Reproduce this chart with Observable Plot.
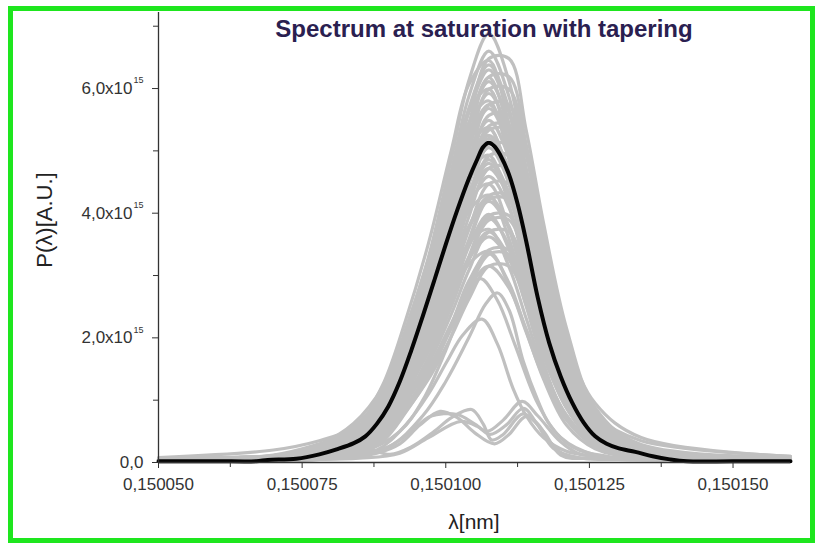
<!DOCTYPE html>
<html>
<head>
<meta charset="utf-8">
<script src="https://cdn.jsdelivr.net/npm/d3@7"></script>
<script src="https://cdn.jsdelivr.net/npm/@observablehq/plot@0.6"></script>
<style>
  html, body { margin: 0; padding: 0; background: #fff; }
  body { width: 816px; height: 544px; position: relative; overflow: hidden; font-family: "Liberation Sans", Arial, sans-serif; }
  #chart { position: absolute; left: 0; top: 0; }
  #frame { position: absolute; left: 8px; top: 6px; width: 797px; height: 527px; border: 5px solid #1ee61e; pointer-events: none; }
  #title { position: absolute; left: 484px; top: 15px; transform: translateX(-50%); white-space: nowrap;
           font-weight: bold; font-size: 24px; color: #2a2050; line-height: 28px; }
  #xlabel { position: absolute; left: 474px; top: 509px; transform: translateX(-50%); white-space: nowrap;
            font-size: 21px; color: #222; line-height: 26px; }
  #ylabel { position: absolute; left: 45px; top: 220px; transform: translate(-50%, -50%) rotate(-90deg); white-space: nowrap;
            font-size: 22px; color: #222; line-height: 26px; }
</style>
</head>
<body>
<div id="chart"></div>
<div id="title">Spectrum at saturation with tapering</div>
<div id="xlabel">λ[nm]</div>
<div id="ylabel">P(λ)[A.U.]</div>
<div id="frame"></div>
<script>
// Wavelength grid (nm) shared by the bundle of single-shot spectra
const lambdaGrid = [0.15005, 0.15007, 0.150078, 0.150084, 0.150089, 0.150093, 0.150097, 0.150101, 0.150104,
                    0.1501075, 0.150111, 0.150114, 0.150117, 0.150121, 0.150126, 0.150134, 0.15016];

// Single-shot spectra on lambdaGrid, power in units of 1e15 A.U.
const shotSpectra = [
  [0.06, 0.10, 0.17, 0.41, 1.03, 2.13, 3.30, 4.88, 6.12, 6.88, 6.12, 4.68, 3.16, 1.65, 0.62, 0.21, 0.06],
  [0.06, 0.09, 0.14, 0.34, 0.81, 1.69, 2.77, 4.19, 5.40, 6.48, 6.48, 5.33, 3.85, 2.16, 0.88, 0.27, 0.06],
  [0.06, 0.08, 0.17, 0.40, 0.99, 2.05, 3.17, 4.69, 5.87, 6.60, 5.87, 4.49, 3.04, 1.58, 0.59, 0.20, 0.06],
  [0.06, 0.10, 0.20, 0.49, 1.24, 2.28, 3.52, 5.02, 6.06, 6.45, 5.41, 3.98, 2.61, 1.30, 0.49, 0.16, 0.06],
  [0.06, 0.09, 0.13, 0.32, 0.77, 1.61, 2.64, 4.00, 5.16, 6.19, 6.19, 5.10, 3.68, 2.06, 0.84, 0.26, 0.07],
  [0.06, 0.09, 0.16, 0.38, 0.96, 1.98, 3.06, 4.53, 5.68, 6.38, 5.68, 4.34, 2.93, 1.53, 0.57, 0.19, 0.06],
  [0.08, 0.20, 0.35, 0.55, 0.95, 1.95, 3.02, 4.47, 5.61, 6.30, 5.61, 4.28, 2.90, 1.51, 0.57, 0.19, 0.06],
  [0.06, 0.08, 0.12, 0.31, 0.75, 1.56, 2.56, 3.87, 4.99, 5.99, 5.99, 4.93, 3.56, 2.00, 0.81, 0.25, 0.06],
  [0.06, 0.08, 0.09, 0.25, 0.62, 1.48, 2.53, 4.08, 5.38, 6.18, 5.31, 3.89, 2.47, 1.11, 0.40, 0.12, 0.06],
  [0.06, 0.09, 0.15, 0.37, 0.92, 1.89, 2.93, 4.34, 5.44, 6.11, 5.44, 4.15, 2.81, 1.47, 0.55, 0.18, 0.06],
  [0.06, 0.10, 0.18, 0.45, 1.15, 2.12, 3.27, 4.66, 5.63, 5.99, 5.02, 3.69, 2.42, 1.21, 0.45, 0.15, 0.06],
  [0.06, 0.08, 0.12, 0.30, 0.72, 1.50, 2.45, 3.71, 4.78, 5.74, 5.74, 4.72, 3.41, 1.91, 0.78, 0.24, 0.06],
  [0.06, 0.09, 0.15, 0.36, 0.89, 1.84, 2.84, 4.20, 5.27, 5.92, 5.27, 4.03, 2.72, 1.42, 0.53, 0.18, 0.06],
  [0.06, 0.10, 0.18, 0.44, 1.11, 2.05, 3.16, 4.51, 5.45, 5.80, 4.86, 3.57, 2.34, 1.17, 0.44, 0.15, 0.06],
  [0.06, 0.08, 0.12, 0.29, 0.70, 1.45, 2.38, 3.60, 4.64, 5.57, 5.57, 4.58, 3.31, 1.95, 0.95, 0.40, 0.10],
  [0.06, 0.11, 0.29, 0.63, 1.21, 2.10, 3.07, 4.31, 5.17, 5.74, 5.17, 4.13, 2.93, 1.78, 0.80, 0.29, 0.08],
  [0.06, 0.12, 0.30, 0.50, 0.85, 1.76, 2.73, 4.03, 5.06, 5.68, 5.06, 3.86, 2.61, 1.36, 0.51, 0.17, 0.06],
  [0.06, 0.08, 0.11, 0.28, 0.67, 1.41, 2.30, 3.48, 4.50, 5.40, 5.40, 4.44, 3.20, 1.80, 0.73, 0.22, 0.06],
  [0.06, 0.09, 0.14, 0.33, 0.82, 1.70, 2.64, 3.90, 4.89, 5.49, 4.89, 3.73, 2.53, 1.32, 0.49, 0.16, 0.06],
  [0.06, 0.08, 0.11, 0.28, 0.67, 1.39, 2.28, 3.44, 4.44, 5.33, 5.33, 4.38, 3.16, 1.78, 0.72, 0.22, 0.06],
  [0.06, 0.10, 0.16, 0.41, 1.03, 1.90, 2.93, 4.17, 5.04, 5.37, 4.50, 3.31, 2.17, 1.08, 0.41, 0.14, 0.06],
  [0.06, 0.08, 0.08, 0.21, 0.54, 1.29, 2.20, 3.54, 4.66, 5.36, 4.61, 3.38, 2.14, 0.96, 0.35, 0.11, 0.06],
  [0.06, 0.08, 0.11, 0.27, 0.64, 1.33, 2.17, 3.29, 4.24, 5.09, 5.09, 4.19, 3.02, 1.70, 0.69, 0.21, 0.06],
  [0.06, 0.11, 0.26, 0.58, 1.10, 1.92, 2.81, 3.94, 4.73, 5.25, 4.73, 3.78, 2.68, 1.63, 0.74, 0.26, 0.08],
  [0.06, 0.08, 0.10, 0.21, 0.52, 1.25, 2.13, 3.43, 4.52, 5.20, 4.47, 3.28, 2.08, 0.94, 0.34, 0.10, 0.06],
  [0.06, 0.08, 0.10, 0.26, 0.61, 1.28, 2.10, 3.17, 4.10, 4.92, 4.92, 4.04, 2.92, 1.64, 0.67, 0.20, 0.06],
  [0.06, 0.09, 0.13, 0.30, 0.76, 1.57, 2.42, 3.59, 4.49, 5.05, 4.49, 3.43, 2.32, 1.40, 0.75, 0.35, 0.10],
  [0.06, 0.09, 0.15, 0.37, 0.95, 1.74, 2.69, 3.83, 4.63, 4.93, 4.13, 3.04, 1.99, 1.00, 0.37, 0.12, 0.06],
  [0.06, 0.09, 0.12, 0.29, 0.73, 1.51, 2.33, 3.45, 4.33, 4.86, 4.33, 3.30, 2.24, 1.17, 0.44, 0.15, 0.06],
  [0.06, 0.08, 0.10, 0.25, 0.59, 1.23, 2.02, 3.05, 3.94, 4.72, 4.72, 3.89, 2.80, 1.57, 0.64, 0.20, 0.06],
  [0.06, 0.10, 0.25, 0.45, 0.80, 1.49, 2.30, 3.41, 4.27, 4.80, 4.27, 3.26, 2.21, 1.15, 0.43, 0.14, 0.06],
  [0.06, 0.09, 0.24, 0.52, 0.99, 1.72, 2.53, 3.54, 4.25, 4.72, 4.25, 3.40, 2.41, 1.46, 0.66, 0.24, 0.08],
  [0.06, 0.09, 0.11, 0.28, 0.69, 1.42, 2.20, 3.26, 4.09, 4.59, 4.09, 3.12, 2.11, 1.10, 0.41, 0.14, 0.06],
  [0.06, 0.08, 0.09, 0.23, 0.56, 1.17, 1.91, 2.89, 3.73, 4.47, 4.47, 3.68, 2.66, 1.49, 0.61, 0.19, 0.06],
  [0.06, 0.09, 0.14, 0.34, 0.86, 1.58, 2.44, 3.48, 4.20, 4.47, 3.75, 2.76, 1.81, 0.90, 0.34, 0.11, 0.06],
  [0.06, 0.08, 0.09, 0.22, 0.54, 1.12, 1.83, 2.77, 3.57, 4.28, 4.28, 3.52, 2.54, 1.43, 0.58, 0.18, 0.06],
  [0.06, 0.09, 0.13, 0.32, 0.82, 1.52, 2.34, 3.33, 4.03, 4.29, 3.59, 2.64, 1.73, 0.87, 0.32, 0.11, 0.06],
  [0.06, 0.09, 0.11, 0.26, 0.64, 1.32, 2.04, 3.02, 3.79, 4.26, 3.79, 2.90, 1.96, 1.02, 0.38, 0.13, 0.06],
  [0.06, 0.08, 0.09, 0.22, 0.53, 1.10, 1.80, 2.73, 3.52, 4.22, 4.22, 3.48, 2.51, 1.41, 0.57, 0.18, 0.06],
  [0.06, 0.08, 0.21, 0.46, 0.88, 1.53, 2.24, 3.14, 3.77, 4.19, 3.77, 3.02, 2.14, 1.30, 0.59, 0.21, 0.07],
  [0.06, 0.08, 0.08, 0.21, 0.49, 1.03, 1.69, 2.55, 3.30, 3.96, 3.96, 3.25, 2.35, 1.32, 0.54, 0.16, 0.06],
  [0.06, 0.08, 0.08, 0.20, 0.49, 1.01, 1.66, 2.51, 3.24, 3.89, 3.89, 3.20, 2.31, 1.30, 0.53, 0.16, 0.06],
  [0.06, 0.08, 0.08, 0.16, 0.40, 0.96, 1.63, 2.63, 3.46, 3.98, 3.42, 2.51, 1.59, 0.72, 0.26, 0.10, 0.06],
  [0.06, 0.08, 0.10, 0.24, 0.59, 1.22, 1.88, 2.78, 3.49, 3.92, 3.49, 2.67, 1.80, 0.94, 0.35, 0.12, 0.06],
  [0.06, 0.08, 0.08, 0.19, 0.46, 0.96, 1.58, 2.39, 3.08, 3.70, 3.70, 3.04, 2.19, 1.23, 0.50, 0.15, 0.06],
  [0.06, 0.08, 0.11, 0.28, 0.72, 1.32, 2.04, 2.91, 3.52, 3.74, 3.14, 2.31, 1.51, 0.76, 0.28, 0.09, 0.06],
  [0.06, 0.09, 0.09, 0.22, 0.56, 1.15, 1.78, 2.63, 3.29, 3.70, 3.29, 2.52, 1.70, 0.89, 0.33, 0.11, 0.06],
  [0.06, 0.07, 0.18, 0.40, 0.76, 1.32, 1.94, 2.72, 3.26, 3.62, 3.26, 2.61, 1.85, 1.12, 0.51, 0.18, 0.07],
  [0.06, 0.08, 0.08, 0.18, 0.43, 0.89, 1.46, 2.20, 2.84, 3.41, 3.41, 2.80, 2.02, 1.14, 0.46, 0.14, 0.06],
  [0.06, 0.08, 0.08, 0.17, 0.42, 0.87, 1.43, 2.16, 2.78, 3.34, 3.34, 2.75, 1.98, 1.11, 0.45, 0.14, 0.06],
  [0.06, 0.08, 0.10, 0.26, 0.65, 1.20, 1.85, 2.63, 3.18, 3.39, 2.84, 2.09, 1.37, 0.68, 0.26, 0.09, 0.06],
  [0.06, 0.08, 0.08, 0.13, 0.34, 0.80, 1.37, 2.21, 2.91, 3.35, 2.88, 2.11, 1.34, 0.60, 0.22, 0.08, 0.06],
  [0.06, 0.08, 0.08, 0.16, 0.39, 0.82, 1.34, 2.03, 2.62, 3.15, 3.15, 2.59, 1.87, 1.05, 0.43, 0.13, 0.06],
  [0.06, 0.08, 0.08, 0.19, 0.47, 0.98, 1.51, 2.24, 2.80, 3.15, 2.80, 2.14, 1.45, 0.76, 0.28, 0.09, 0.06]
];

// Weaker shots, each sampled on its own wavelengths
const weakShotLambdaA = [0.15005, 0.150075, 0.150085, 0.150092, 0.150096, 0.1501, 0.150103, 0.150106, 0.150109, 0.150112, 0.150116, 0.15012, 0.150126, 0.15014, 0.15016];
const weakShotPowerA  = [0.05, 0.06, 0.15, 0.5, 1.0, 1.8, 2.5, 2.95, 2.6, 1.9, 0.95, 0.4, 0.12, 0.06, 0.05];

const weakShotLambdaB = [0.15005, 0.15008, 0.15009, 0.150096, 0.1501, 0.150104, 0.150107, 0.150109, 0.150111, 0.1501135, 0.150116, 0.150118, 0.150122, 0.150128, 0.15014, 0.15016];
const weakShotPowerB  = [0.05, 0.07, 0.25, 0.75, 1.3, 2.0, 2.55, 2.72, 2.45, 1.62, 1.0, 0.62, 0.25, 0.1, 0.06, 0.05];

const weakShotLambdaC = [0.15005, 0.15008, 0.150088, 0.150093, 0.150097, 0.1501002, 0.150103, 0.1501063, 0.150109, 0.1501117, 0.150114, 0.150117, 0.150121, 0.150128, 0.15014, 0.15016];
const weakShotPowerC  = [0.05, 0.06, 0.2, 0.6, 1.1, 1.62, 2.05, 2.30, 1.9, 1.19, 0.75, 0.4, 0.18, 0.08, 0.05, 0.05];

const weakShotLambdaD = [0.15005, 0.15008, 0.150086, 0.1500903, 0.150094, 0.150098, 0.150101, 0.1501045, 0.1501065, 0.150108, 0.15011, 0.1501134, 0.150116, 0.150118, 0.1501205, 0.150125, 0.150135, 0.15016];
const weakShotPowerD  = [0.05, 0.08, 0.22, 0.13, 0.25, 0.5, 0.72, 0.85, 0.62, 0.36, 0.45, 0.78, 0.62, 0.35, 0.13, 0.06, 0.05, 0.05];

const weakShotLambdaE = [0.15005, 0.15008, 0.15009, 0.150094, 0.1500973, 0.150102, 0.150105, 0.1501072, 0.15011, 0.1501133, 0.150116, 0.1501199, 0.150123, 0.15013, 0.15016];
const weakShotPowerE  = [0.05, 0.08, 0.25, 0.5, 0.74, 0.77, 0.62, 0.5, 0.68, 0.98, 0.75, 0.34, 0.15, 0.07, 0.05];

const weakShotLambdaF = [0.15005, 0.150085, 0.150092, 0.150097, 0.1501026, 0.1501055, 0.1501077, 0.1501105, 0.1501135, 0.150116, 0.1501187, 0.150123, 0.150135, 0.15016];
const weakShotPowerF  = [0.05, 0.07, 0.15, 0.4, 0.66, 0.58, 0.45, 0.6, 0.87, 0.6, 0.23, 0.08, 0.05, 0.05];

const weakShotLambdaG = [0.15005, 0.150082, 0.150088, 0.150092, 0.1500955, 0.150099, 0.150102, 0.150105, 0.1501085, 0.150111, 0.150114, 0.150117, 0.15012, 0.150126, 0.15016];
const weakShotPowerG  = [0.05, 0.07, 0.15, 0.3, 0.6, 0.82, 0.72, 0.48, 0.3, 0.45, 0.74, 0.5, 0.12, 0.06, 0.05];

// Average spectrum (bold black curve)
const meanLambda = [0.15005, 0.15006, 0.150067, 0.150069, 0.150074, 0.150078, 0.150081, 0.150084, 0.150086, 0.150088,
                    0.15009, 0.150092, 0.150094, 0.150096, 0.150098, 0.1501, 0.150102, 0.150104, 0.1501055, 0.1501065,
                    0.1501075, 0.1501085, 0.1501095, 0.150111, 0.1501125, 0.150114, 0.150116, 0.150118, 0.15012, 0.150122,
                    0.150124, 0.150126, 0.150128, 0.15013, 0.150133, 0.150136, 0.150139, 0.150142, 0.15015, 0.15016];
const meanPower  = [0.02, 0.02, 0.02, 0.04, 0.06, 0.13, 0.21, 0.31, 0.42, 0.62,
                    0.90, 1.30, 1.80, 2.35, 2.92, 3.50, 4.05, 4.55, 4.87, 5.06,
                    5.13, 5.07, 4.93, 4.62, 4.15, 3.55, 2.65, 1.92, 1.38, 0.96,
                    0.64, 0.42, 0.30, 0.23, 0.17, 0.10, 0.05, 0.02, 0.02, 0.02];

// Axis ticks
const xTicksMajor = [0.15005, 0.150075, 0.1501, 0.150125, 0.15015];
const xTicksMinor = [0.1500625, 0.1500875, 0.1501125, 0.1501375];
const yTicksMajor = [0, 2, 4, 6];
const yTicksMinor = [1, 3, 5, 7];

// Long-format table for the grey shots
const shots = [];
shotSpectra.forEach((run, i) => run.forEach((p, j) => shots.push({shot: "s" + i, lambda: lambdaGrid[j], p})));
[[weakShotLambdaA, weakShotPowerA], [weakShotLambdaB, weakShotPowerB], [weakShotLambdaC, weakShotPowerC],
 [weakShotLambdaD, weakShotPowerD], [weakShotLambdaE, weakShotPowerE], [weakShotLambdaF, weakShotPowerF],
 [weakShotLambdaG, weakShotPowerG]].forEach(([lam, pw], i) =>
  lam.forEach((l, j) => shots.push({shot: "w" + i, lambda: l, p: pw[j]})));
const mean = meanLambda.map((l, j) => ({lambda: l, p: meanPower[j]}));

const fmtX = d => d.toFixed(6).replace(".", ",");
const fmtY = d => d.toFixed(1).replace(".", ",") + "x10";
const axisInk = "#333";
const yTicksPowered = yTicksMajor.filter(d => d > 0);

const chart = Plot.plot({
  width: 816,
  height: 544,
  marginLeft: 158,
  marginRight: 26,
  marginTop: 12,
  marginBottom: 82,
  style: {background: "transparent", fontFamily: "'Liberation Sans', Arial, sans-serif", color: axisInk},
  x: {domain: [0.15005, 0.15016]},
  y: {domain: [0, 7.22]},
  marks: [
    Plot.line(shots, {x: "lambda", y: "p", z: "shot", stroke: "#c0c0c0", strokeWidth: 3.2, curve: "catmull-rom"}),
    Plot.line(mean, {x: "lambda", y: "p", stroke: "#050505", strokeWidth: 4, curve: "catmull-rom"}),
    Plot.ruleY([0], {stroke: axisInk, strokeWidth: 1.3}),
    Plot.ruleX([0.15005], {stroke: axisInk, strokeWidth: 1.3}),
    Plot.axisX(xTicksMajor, {tickSize: 6, tickPadding: 9, tickFormat: fmtX, fontSize: 17, stroke: axisInk, fill: axisInk, label: null}),
    Plot.axisX(xTicksMinor, {tickSize: 5, tickFormat: () => "", stroke: axisInk, label: null}),
    Plot.axisY(yTicksMajor, {tickSize: 6, tickFormat: () => "", stroke: axisInk, label: null}),
    Plot.axisY(yTicksMinor, {tickSize: 5, tickFormat: () => "", stroke: axisInk, label: null}),
    // "0,0" at the origin, "n,0x10" with a raised exponent elsewhere
    Plot.text([0], {y: d => d, frameAnchor: "left", text: () => "0,0", textAnchor: "end", dx: -15, fontSize: 17, fill: axisInk}),
    Plot.text(yTicksPowered, {y: d => d, frameAnchor: "left", text: fmtY, textAnchor: "end", dx: -26, fontSize: 17, fill: axisInk}),
    Plot.text(yTicksPowered, {y: d => d, frameAnchor: "left", text: () => "15", textAnchor: "start", dx: -25, dy: -8, fontSize: 9, fill: axisInk})
  ]
});
document.getElementById("chart").appendChild(chart);
</script>
</body>
</html>
